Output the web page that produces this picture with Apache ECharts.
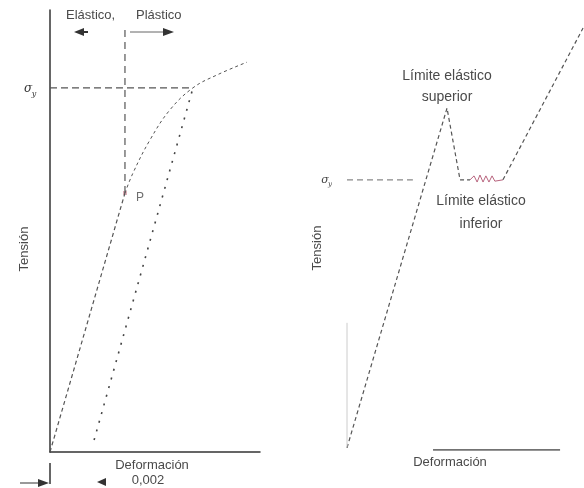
<!DOCTYPE html>
<html>
<head>
<meta charset="utf-8">
<script src="https://cdn.jsdelivr.net/npm/echarts@6/dist/echarts.min.js"></script>
<style>
  html, body { margin: 0; padding: 0; background: #fff; }
  #chart { width: 584px; height: 488px; }
</style>
</head>
<body>
<div id="chart"></div>
<script>
// Left diagram: material with gradual yielding (0,2 % offset method)
const elasticLeft = [[0, 0], [35.7, 58.6]];
const plasticLeft = [[35.7, 58.6], [39.5, 63.1], [47.6, 70.6], [57.1, 77.4], [68.1, 82.4], [79.5, 85.3], [93.8, 88.2]];
const offsetLine = [[21, 2.7], [68.1, 82.4]];
const yieldLeft = 82.4;
const pointP = [35.7, 58.6];
const dividerTop = 95.5;

// Right diagram: material with upper / lower yield point
const elasticRight = [[0, 0.5], [42.2, 77.7], [47.7, 61.4], [51.9, 61.4]];
const lowerYieldWiggle = [[51.9, 61.4], [53.6, 62.3], [54.9, 60.9], [56.1, 62.5], [57.4, 60.9], [58.6, 62.3], [59.9, 60.9], [61.2, 62.3], [62.4, 61.1], [65.8, 61.4]];
const hardeningRight = [[65.8, 61.4], [99.6, 95.9]];
const yieldRight = 61.4;
const xAxisRightSpan = [36.3, 89.9];
const yAxisRightSpan = [0.7, 28.9];

const textFont = '"Liberation Sans", "DejaVu Sans", sans-serif';
const ink = '#4a4a4a';
const lineInk = '#555';

const chart = echarts.init(document.getElementById('chart'));

function seg(name, data, xi, yi, style, extra) {
  return Object.assign({
    name: name, type: 'line', xAxisIndex: xi, yAxisIndex: yi,
    data: data, symbol: 'none', silent: true, animation: false,
    lineStyle: Object.assign({ color: lineInk, width: 1.2 }, style)
  }, extra || {});
}

const hiddenAxis = { type: 'value', min: 0, max: 100, splitLine: { show: false }, axisTick: { show: false }, axisLabel: { show: false } };

const option = {
  backgroundColor: '#fff',
  animation: false,
  grid: [
    { left: 50, top: 10, width: 210, height: 442 },
    { left: 347, top: 10, width: 237, height: 440 }
  ],
  xAxis: [
    Object.assign({}, hiddenAxis, { gridIndex: 0, axisLine: { show: true, lineStyle: { color: '#333', width: 1.5 } } }),
    Object.assign({}, hiddenAxis, { gridIndex: 1, axisLine: { show: false } })
  ],
  yAxis: [
    Object.assign({}, hiddenAxis, { gridIndex: 0, axisLine: { show: true, lineStyle: { color: '#333', width: 1.5 } } }),
    Object.assign({}, hiddenAxis, { gridIndex: 1, axisLine: { show: false } })
  ],
  series: [
    // left panel
    seg('elastic', elasticLeft, 0, 0, { type: [4, 3] }),
    seg('plastic', plasticLeft, 0, 0, { type: [3, 3], width: 1 }, { smooth: 0.4 }),
    seg('offset', offsetLine, 0, 0, { type: [2, 7], width: 1.6, color: '#444' }),
    seg('sigmaY', [[0, yieldLeft], [plasticLeft[4][0], yieldLeft]], 0, 0, { type: [7, 4], color: '#555' }),
    seg('divider', [[pointP[0], pointP[1]], [pointP[0], dividerTop]], 0, 0, { type: [7, 5], color: '#555' }),
    {
      name: 'P', type: 'scatter', xAxisIndex: 0, yAxisIndex: 0, data: [pointP],
      symbol: 'rect', symbolSize: 4, itemStyle: { color: '#d49aa6' }, silent: true,
      label: { show: true, formatter: 'P', position: 'right', offset: [4, 5], color: ink, fontFamily: textFont, fontSize: 12 }
    },
    // right panel
    seg('elasticR', elasticRight, 1, 1, { type: [4, 3] }),
    seg('wiggle', lowerYieldWiggle, 1, 1, { type: 'solid', color: '#b8647e', width: 1 }),
    seg('hardening', hardeningRight, 1, 1, { type: [4, 3] }),
    seg('sigmaYR', [[0, yieldRight], [27.8, yieldRight]], 1, 1, { type: [6, 4], color: '#888' }),
    seg('axisXR', [[xAxisRightSpan[0], 0], [xAxisRightSpan[1], 0]], 1, 1, { type: 'solid', color: '#444', width: 1.6 }),
    seg('axisYR', [[0, yAxisRightSpan[0]], [0, yAxisRightSpan[1]]], 1, 1, { type: 'solid', color: '#ccc', width: 1 })
  ],
  graphic: [
    // left annotations
    { type: 'text', left: 66, top: 9, style: { text: 'Elástico,', font: '13px ' + textFont, fill: ink } },
    { type: 'text', left: 136, top: 9, style: { text: 'Plástico', font: '13px ' + textFont, fill: ink } },
    { type: 'polygon', shape: { points: [[74, 32], [84, 28], [84, 36]] }, style: { fill: '#333' } },
    { type: 'line', shape: { x1: 84, y1: 32, x2: 88, y2: 32 }, style: { stroke: '#333', lineWidth: 2 } },
    { type: 'line', shape: { x1: 130, y1: 32, x2: 164, y2: 32 }, style: { stroke: '#666', lineWidth: 1 } },
    { type: 'polygon', shape: { points: [[174, 32], [163, 28], [163, 36]] }, style: { fill: '#333' } },
    { type: 'text', x: 28, y: 89, style: { text: 'σ', font: 'italic 12px "DejaVu Serif", serif', fill: '#333', align: 'center', verticalAlign: 'middle' } },
    { type: 'text', x: 34, y: 94, style: { text: 'y', font: 'italic 8px "DejaVu Serif", serif', fill: '#333', align: 'center', verticalAlign: 'middle' } },
    { type: 'text', x: 24, y: 249, rotation: Math.PI / 2, style: { text: 'Tensión', font: '13px ' + textFont, fill: ink, align: 'center', verticalAlign: 'middle' } },
    { type: 'text', x: 152, y: 465, style: { text: 'Deformación', font: '13px ' + textFont, fill: ink, align: 'center', verticalAlign: 'middle' } },
    { type: 'text', x: 148, y: 480, style: { text: '0,002', font: '13px ' + textFont, fill: ink, align: 'center', verticalAlign: 'middle' } },
    { type: 'polygon', shape: { points: [[97, 482], [106, 478], [106, 486]] }, style: { fill: '#333' } },
    { type: 'line', shape: { x1: 50, y1: 463, x2: 50, y2: 484 }, style: { stroke: '#333', lineWidth: 1.5 } },
    { type: 'line', shape: { x1: 20, y1: 483, x2: 42, y2: 483 }, style: { stroke: '#555', lineWidth: 1.2 } },
    { type: 'polygon', shape: { points: [[49, 483], [38, 479], [38, 487]] }, style: { fill: '#333' } },
    // right annotations
    { type: 'text', x: 447, y: 76, style: { text: 'Límite elástico', font: '14px ' + textFont, fill: ink, align: 'center', verticalAlign: 'middle' } },
    { type: 'text', x: 447, y: 97, style: { text: 'superior', font: '14px ' + textFont, fill: ink, align: 'center', verticalAlign: 'middle' } },
    { type: 'text', x: 481, y: 201, style: { text: 'Límite elástico', font: '14px ' + textFont, fill: ink, align: 'center', verticalAlign: 'middle' } },
    { type: 'text', x: 481, y: 224, style: { text: 'inferior', font: '14px ' + textFont, fill: ink, align: 'center', verticalAlign: 'middle' } },
    { type: 'text', x: 325, y: 180, style: { text: 'σ', font: 'italic 11px "DejaVu Serif", serif', fill: '#444', align: 'center', verticalAlign: 'middle' } },
    { type: 'text', x: 330, y: 184, style: { text: 'y', font: 'italic 7px "DejaVu Serif", serif', fill: '#444', align: 'center', verticalAlign: 'middle' } },
    { type: 'text', x: 317, y: 248, rotation: Math.PI / 2, style: { text: 'Tensión', font: '13px ' + textFont, fill: ink, align: 'center', verticalAlign: 'middle' } },
    { type: 'text', x: 450, y: 462, style: { text: 'Deformación', font: '13px ' + textFont, fill: ink, align: 'center', verticalAlign: 'middle' } }
  ]
};

chart.setOption(option);
</script>
</body>
</html>
